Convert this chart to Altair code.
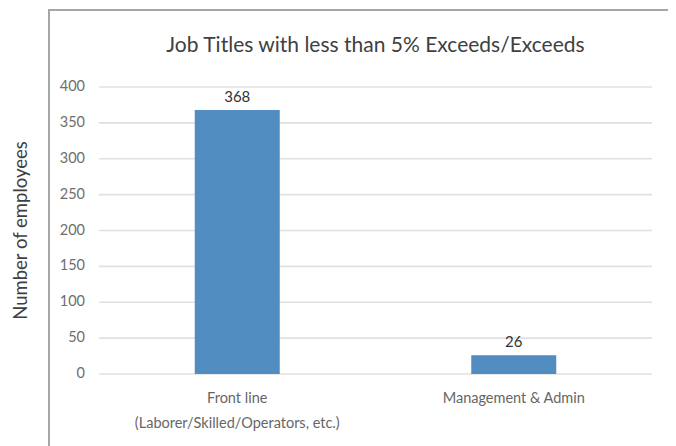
import altair as alt
import pandas as pd

chart_title = "Job Titles with less than 5% Exceeds/Exceeds"
y_title = "Number of employees"
categories = ["Front line\n(Laborer/Skilled/Operators, etc.)", "Management & Admin"]
employees = [368, 26]
y_ticks = [0, 50, 100, 150, 200, 250, 300, 350, 400]

df = pd.DataFrame({"category": categories, "employees": employees})
ticks_df = pd.DataFrame({"tick": y_ticks})

FONT = "Lato"
BAR = "#528dc1"
W, H = 553, 287

yscale = alt.Scale(domain=[0, 400], nice=False)

x = alt.X("category:N", sort=categories, title=None,
          scale=alt.Scale(paddingInner=0, paddingOuter=0),
          axis=alt.Axis(labelAngle=0, domain=False, ticks=False, grid=False,
                        labelExpr="split(datum.label, '\\n')", labelLimit=400,
                        labelFont=FONT, labelFontSize=14.5, labelColor="#666666",
                        labelLineHeight=25, labelPadding=17, labelBaseline="top"))

grid = alt.Chart(ticks_df).mark_rule(color="#e0e0e0", strokeWidth=1.6).encode(
    y=alt.Y("tick:Q", scale=yscale, axis=None), x=alt.value(0), x2=alt.value(W))

tick_labels = alt.Chart(ticks_df).mark_text(
    align="right", baseline="middle", font=FONT, fontSize=14.5, color="#6e6e6e"
).encode(y=alt.Y("tick:Q", scale=yscale, axis=None), x=alt.value(-14), text="tick:Q")

bars = alt.Chart(df).mark_bar(size=85, color=BAR).encode(
    x=x, y=alt.Y("employees:Q", scale=yscale, axis=None))

labels = alt.Chart(df).mark_text(dy=-13, font=FONT, fontSize=15, color="#333333").encode(
    x=x, y=alt.Y("employees:Q", scale=yscale, axis=None), text="employees:Q")

frame = alt.Chart(alt.Data(values=[{"a": 1}])).mark_rect(
    fill=None, stroke="#a6a6a6", strokeWidth=2, clip=False
).encode(x=alt.value(-50), x2=alt.value(573), y=alt.value(-77), y2=alt.value(400))

title = alt.Chart(alt.Data(values=[{"t": chart_title}])).mark_text(
    font=FONT, fontSize=21, color="#404040", align="center", baseline="alphabetic"
).encode(x=alt.value(W / 2), y=alt.value(-35), text="t:N")

ytitle = alt.Chart(alt.Data(values=[{"t": y_title}])).mark_text(
    font=FONT, fontSize=18.5, color="#404040", align="center", baseline="middle",
    angle=270
).encode(x=alt.value(-78), y=alt.value(H / 2), text="t:N")

chart = alt.layer(frame, grid, tick_labels, bars, labels, title, ytitle).properties(
    width=W, height=H,
    autosize=alt.AutoSizeParams(type="none"),
    padding={"left": 91, "top": 79, "right": 16, "bottom": 72},
).configure_view(stroke=None)

chart.save("out.html", embed_options={"renderer": "svg", "actions": False})
